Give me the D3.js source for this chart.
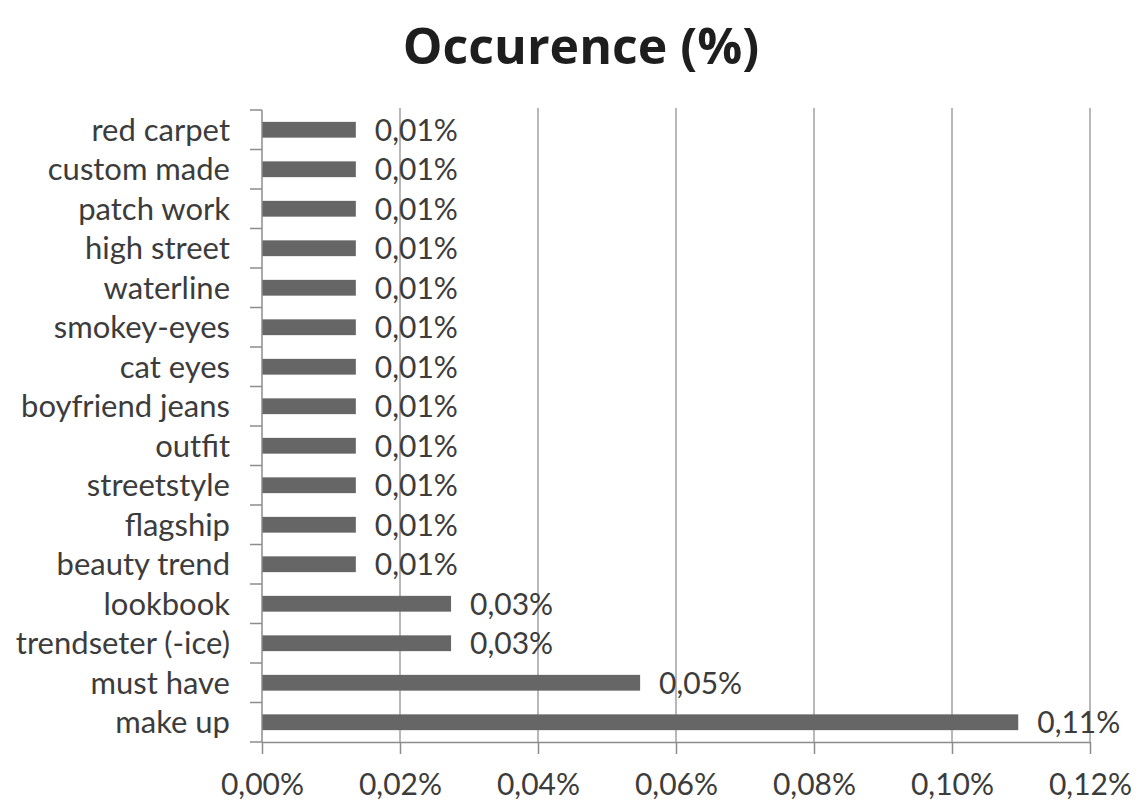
<!DOCTYPE html>
<html>
<head>
<meta charset="utf-8">
<script src="https://cdn.jsdelivr.net/npm/d3@7"></script>
<style>
  html, body { margin: 0; padding: 0; background: #fff; }
  svg { display: block; }
</style>
</head>
<body>
<svg id="chart" width="1138" height="800"></svg>
<script>
// Terms, top to bottom
const categories = [
  "red carpet", "custom made", "patch work", "high street", "waterline",
  "smokey-eyes", "cat eyes", "boyfriend jeans", "outfit", "streetstyle",
  "flagship", "beauty trend", "lookbook", "trendseter (-ice)", "must have", "make up"
];
// Occurrence, in percent
const occurrence = [
  0.0136, 0.0136, 0.0136, 0.0136, 0.0136,
  0.0136, 0.0136, 0.0136, 0.0136, 0.0136,
  0.0136, 0.0136, 0.0274, 0.0274, 0.0548, 0.1096
];
const xTicks = [0, 0.02, 0.04, 0.06, 0.08, 0.10, 0.12];
const titleText = "Occurence (%)";

const svg = d3.select("#chart");
const font = "Lato, 'Open Sans', sans-serif";

const locale = d3.formatLocale({ decimal: ",", thousands: ".", grouping: [3], currency: ["", "%"] });
const fmt = v => locale.format(".2f")(v) + "%";

const plotLeft = 262, plotRight = 1090, plotTop = 110, plotBottom = 742;
const tickLen = 12;

const x = d3.scaleLinear().domain([0, 0.12]).range([plotLeft, plotRight]);
const y = d3.scaleBand().domain(categories).range([plotTop, plotBottom]).paddingInner(0.6).paddingOuter(0.3);
const yEdges = d3.scaleBand().domain(categories).range([plotTop, plotBottom]);

// title
svg.append("text")
  .attr("x", 581).attr("y", 64)
  .attr("text-anchor", "middle")
  .attr("font-family", "'Open Sans', sans-serif")
  .attr("font-weight", "bold")
  .attr("font-size", 50)
  .attr("fill", "#1e1e1e")
  .text(titleText);

// vertical gridlines
svg.append("g").selectAll("line")
  .data(xTicks.slice(1))
  .join("line")
  .attr("x1", d => x(d)).attr("x2", d => x(d))
  .attr("y1", plotTop - 2).attr("y2", plotBottom)
  .attr("stroke", "#a0a0a0").attr("stroke-width", 1.5);

// bars
svg.append("g").selectAll("rect")
  .data(categories)
  .join("rect")
  .attr("x", x(0))
  .attr("y", d => y(d))
  .attr("width", (d, i) => x(occurrence[i]) - x(0))
  .attr("height", y.bandwidth())
  .attr("fill", "#666666");

// value labels
svg.append("g").selectAll("text")
  .data(categories)
  .join("text")
  .attr("x", (d, i) => x(occurrence[i]) + 19)
  .attr("y", d => y(d) + y.bandwidth() / 2)
  .attr("dy", "0.36em")
  .attr("font-family", font)
  .attr("font-size", 30)
  .attr("fill", "#3c3c3c")
  .text((d, i) => fmt(occurrence[i]));

// y axis: line, ticks at band edges, category labels
const yAxis = svg.append("g");
yAxis.append("line")
  .attr("x1", plotLeft).attr("x2", plotLeft)
  .attr("y1", plotTop).attr("y2", plotBottom)
  .attr("stroke", "#8c8c8c").attr("stroke-width", 1.5);
yAxis.selectAll("line.tick")
  .data(categories.concat([null]))
  .join("line")
  .attr("class", "tick")
  .attr("x1", plotLeft - tickLen).attr("x2", plotLeft)
  .attr("y1", d => d === null ? plotBottom : yEdges(d))
  .attr("y2", d => d === null ? plotBottom : yEdges(d))
  .attr("stroke", "#8c8c8c").attr("stroke-width", 1.5);
yAxis.selectAll("text")
  .data(categories)
  .join("text")
  .attr("x", 230)
  .attr("y", d => y(d) + y.bandwidth() / 2)
  .attr("dy", "0.36em")
  .attr("text-anchor", "end")
  .attr("font-family", font)
  .attr("font-size", 31)
  .attr("fill", "#3c3c3c")
  .text(d => d);

// x axis
const xAxis = d3.axisBottom(x)
  .tickValues(xTicks)
  .tickSizeInner(tickLen)
  .tickSizeOuter(0)
  .tickPadding(20)
  .tickFormat(fmt);
const gx = svg.append("g").attr("transform", `translate(0,${plotBottom})`).call(xAxis);
gx.select(".domain").attr("stroke", "#8c8c8c").attr("stroke-width", 1.5);
gx.selectAll(".tick line").attr("stroke", "#8c8c8c").attr("stroke-width", 1.5);
gx.selectAll(".tick text")
  .attr("font-family", font)
  .attr("font-size", 30)
  .attr("fill", "#3c3c3c");
</script>
</body>
</html>
